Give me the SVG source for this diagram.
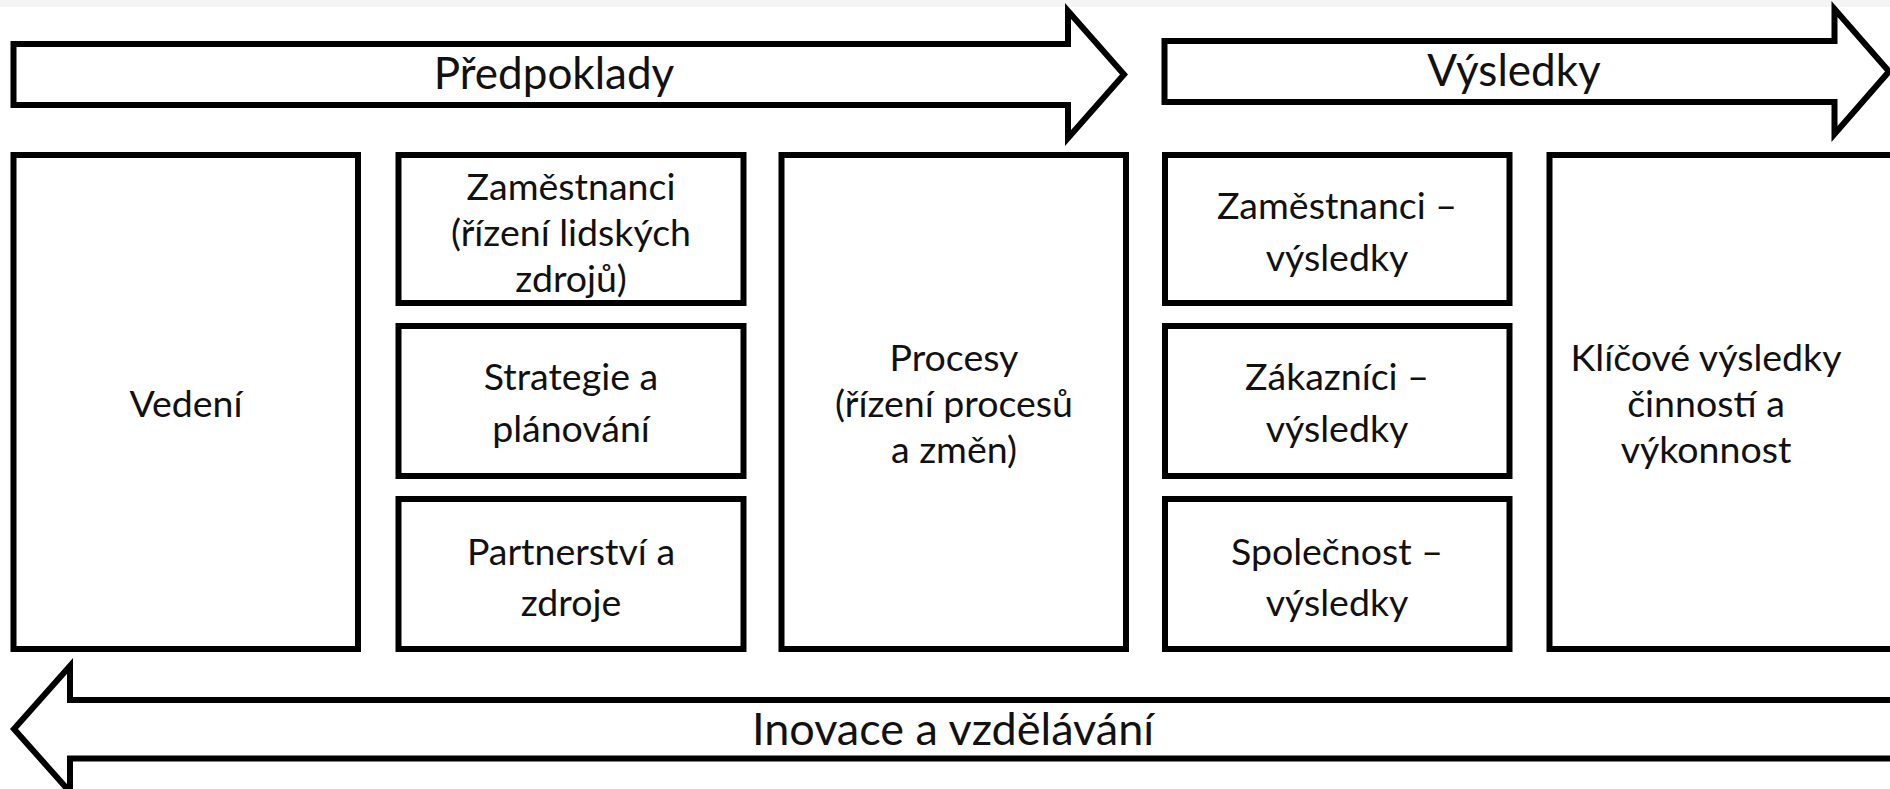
<svg xmlns="http://www.w3.org/2000/svg" width="1890" height="789" viewBox="0 0 1890 789">
<style>
.shape{fill:#fff;stroke:#000;stroke-width:6;stroke-linejoin:miter;stroke-miterlimit:10}
.t{font-family:Lato,"Liberation Sans",sans-serif;font-size:37.5px;fill:#111;text-anchor:middle}
.ta{font-family:Lato,"Liberation Sans",sans-serif;font-size:44px;fill:#111;text-anchor:middle}
</style>
<rect x="0" y="0" width="1890" height="789" fill="#fff"/>
<rect x="0" y="0" width="1890" height="7" fill="#f4f4f4"/>
<g id="arrow-predpoklady">
<polygon class="shape" points="13.5,44 1068,44 1068,11 1124,74.5 1068,138 1068,105 13.5,105"/>
<text class="ta" x="554" y="89">Předpoklady</text>
</g>
<g id="arrow-vysledky">
<polygon class="shape" points="1164.5,41 1834.5,41 1834.5,9 1889,71.5 1834.5,134 1834.5,102 1164.5,102"/>
<text class="ta" x="1514" y="86">Výsledky</text>
</g>
<g id="vedeni">
<rect class="shape" x="13.5" y="155" width="344.5" height="494"/>
<text class="t" x="186" y="417">Vedení</text>
</g>
<g id="zamestnanci">
<rect class="shape" x="398.5" y="155" width="345" height="148"/>
<text class="t" x="571" y="200">Zaměstnanci</text>
<text class="t" x="571" y="246">(řízení lidských</text>
<text class="t" x="571" y="292">zdrojů)</text>
</g>
<g id="strategie">
<rect class="shape" x="398.5" y="326" width="345" height="150"/>
<text class="t" x="571" y="390">Strategie a</text>
<text class="t" x="571" y="442">plánování</text>
</g>
<g id="partnerstvi">
<rect class="shape" x="398.5" y="499" width="345" height="150"/>
<text class="t" x="571" y="565">Partnerství a</text>
<text class="t" x="571" y="616">zdroje</text>
</g>
<g id="procesy">
<rect class="shape" x="781.5" y="155" width="344.5" height="494"/>
<text class="t" x="954" y="371">Procesy</text>
<text class="t" x="954" y="417">(řízení procesů</text>
<text class="t" x="954" y="463">a změn)</text>
</g>
<g id="zamestnanci-vysledky">
<rect class="shape" x="1165" y="155" width="344.5" height="148"/>
<text class="t" x="1337" y="219">Zaměstnanci –</text>
<text class="t" x="1337" y="271">výsledky</text>
</g>
<g id="zakaznici-vysledky">
<rect class="shape" x="1165" y="326" width="344.5" height="150"/>
<text class="t" x="1337" y="390">Zákazníci –</text>
<text class="t" x="1337" y="442">výsledky</text>
</g>
<g id="spolecnost-vysledky">
<rect class="shape" x="1165" y="499" width="344.5" height="150"/>
<text class="t" x="1337" y="565">Společnost –</text>
<text class="t" x="1337" y="616">výsledky</text>
</g>
<g id="klicove-vysledky">
<rect class="shape" x="1549.5" y="155" width="360" height="494"/>
<text class="t" x="1706" y="371">Klíčové výsledky</text>
<text class="t" x="1706" y="417">činností a</text>
<text class="t" x="1706" y="463">výkonnost</text>
</g>
<g id="arrow-inovace">
<polygon class="shape" points="1900,700 70,700 70,666 14,729 70,792 70,758.5 1900,758.5"/>
<text class="ta" x="953" y="745" style="font-size:45px">Inovace a vzdělávání</text>
</g>
<g id="connectors"></g>
</svg>
